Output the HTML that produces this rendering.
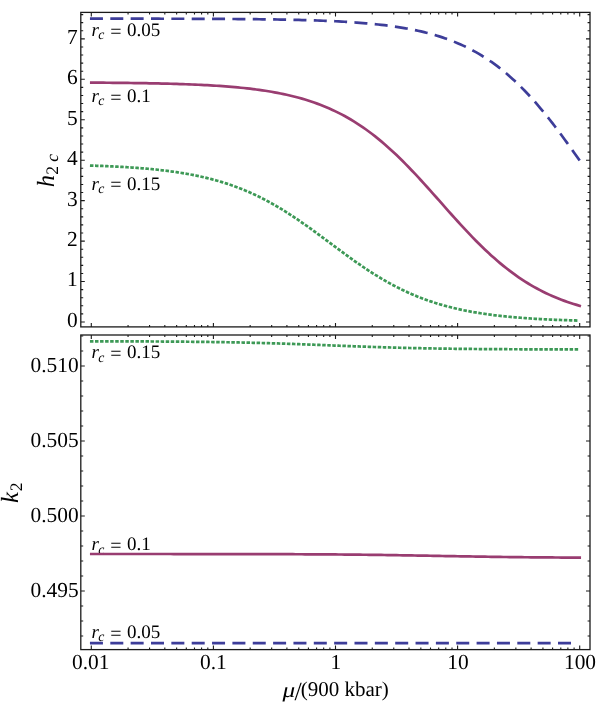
<!DOCTYPE html>
<html><head><meta charset="utf-8"><title>Love numbers</title>
<style>
html,body{margin:0;padding:0;background:#fff;}
body{width:600px;height:707px;overflow:hidden;font-family:"Liberation Serif",serif;}
svg{display:block;will-change:transform;}
</style></head><body>
<svg width="600" height="707" viewBox="0 0 600 707">
<rect width="600" height="707" fill="#fff"/>
<path d="M91.3 326.9 v-4 M128.06 326.9 v-2 M149.56 326.9 v-2 M164.81 326.9 v-2 M176.64 326.9 v-2 M186.31 326.9 v-2 M194.49 326.9 v-2 M201.57 326.9 v-2 M207.81 326.9 v-2 M213.4 326.9 v-4 M250.16 326.9 v-2 M271.66 326.9 v-2 M286.91 326.9 v-2 M298.74 326.9 v-2 M308.41 326.9 v-2 M316.59 326.9 v-2 M323.67 326.9 v-2 M329.91 326.9 v-2 M335.5 326.9 v-4 M372.26 326.9 v-2 M393.76 326.9 v-2 M409.01 326.9 v-2 M420.84 326.9 v-2 M430.51 326.9 v-2 M438.69 326.9 v-2 M445.77 326.9 v-2 M452.01 326.9 v-2 M457.6 326.9 v-4 M494.36 326.9 v-2 M515.86 326.9 v-2 M531.11 326.9 v-2 M542.94 326.9 v-2 M552.61 326.9 v-2 M560.79 326.9 v-2 M567.87 326.9 v-2 M574.11 326.9 v-2 M579.7 326.9 v-4 M91.3 12.4 v4 M128.06 12.4 v2 M149.56 12.4 v2 M164.81 12.4 v2 M176.64 12.4 v2 M186.31 12.4 v2 M194.49 12.4 v2 M201.57 12.4 v2 M207.81 12.4 v2 M213.4 12.4 v4 M250.16 12.4 v2 M271.66 12.4 v2 M286.91 12.4 v2 M298.74 12.4 v2 M308.41 12.4 v2 M316.59 12.4 v2 M323.67 12.4 v2 M329.91 12.4 v2 M335.5 12.4 v4 M372.26 12.4 v2 M393.76 12.4 v2 M409.01 12.4 v2 M420.84 12.4 v2 M430.51 12.4 v2 M438.69 12.4 v2 M445.77 12.4 v2 M452.01 12.4 v2 M457.6 12.4 v4 M494.36 12.4 v2 M515.86 12.4 v2 M531.11 12.4 v2 M542.94 12.4 v2 M552.61 12.4 v2 M560.79 12.4 v2 M567.87 12.4 v2 M574.11 12.4 v2 M579.7 12.4 v4 M80.8 322 h4 M80.8 281.55 h4 M80.8 241.1 h4 M80.8 200.65 h4 M80.8 160.2 h4 M80.8 119.75 h4 M80.8 79.3 h4 M80.8 38.85 h4 M80.8 313.91 h2.4 M80.8 305.82 h2.4 M80.8 297.73 h2.4 M80.8 289.64 h2.4 M80.8 273.46 h2.4 M80.8 265.37 h2.4 M80.8 257.28 h2.4 M80.8 249.19 h2.4 M80.8 233.01 h2.4 M80.8 224.92 h2.4 M80.8 216.83 h2.4 M80.8 208.74 h2.4 M80.8 192.56 h2.4 M80.8 184.47 h2.4 M80.8 176.38 h2.4 M80.8 168.29 h2.4 M80.8 152.11 h2.4 M80.8 144.02 h2.4 M80.8 135.93 h2.4 M80.8 127.84 h2.4 M80.8 111.66 h2.4 M80.8 103.57 h2.4 M80.8 95.48 h2.4 M80.8 87.39 h2.4 M80.8 71.21 h2.4 M80.8 63.12 h2.4 M80.8 55.03 h2.4 M80.8 46.94 h2.4 M80.8 30.76 h2.4 M80.8 22.67 h2.4 M80.8 14.58 h2.4 M590 322 h-4 M590 281.55 h-4 M590 241.1 h-4 M590 200.65 h-4 M590 160.2 h-4 M590 119.75 h-4 M590 79.3 h-4 M590 38.85 h-4 M590 313.91 h-2.4 M590 305.82 h-2.4 M590 297.73 h-2.4 M590 289.64 h-2.4 M590 273.46 h-2.4 M590 265.37 h-2.4 M590 257.28 h-2.4 M590 249.19 h-2.4 M590 233.01 h-2.4 M590 224.92 h-2.4 M590 216.83 h-2.4 M590 208.74 h-2.4 M590 192.56 h-2.4 M590 184.47 h-2.4 M590 176.38 h-2.4 M590 168.29 h-2.4 M590 152.11 h-2.4 M590 144.02 h-2.4 M590 135.93 h-2.4 M590 127.84 h-2.4 M590 111.66 h-2.4 M590 103.57 h-2.4 M590 95.48 h-2.4 M590 87.39 h-2.4 M590 71.21 h-2.4 M590 63.12 h-2.4 M590 55.03 h-2.4 M590 46.94 h-2.4 M590 30.76 h-2.4 M590 22.67 h-2.4 M590 14.58 h-2.4 M91.3 649.6 v-4 M128.06 649.6 v-2 M149.56 649.6 v-2 M164.81 649.6 v-2 M176.64 649.6 v-2 M186.31 649.6 v-2 M194.49 649.6 v-2 M201.57 649.6 v-2 M207.81 649.6 v-2 M213.4 649.6 v-4 M250.16 649.6 v-2 M271.66 649.6 v-2 M286.91 649.6 v-2 M298.74 649.6 v-2 M308.41 649.6 v-2 M316.59 649.6 v-2 M323.67 649.6 v-2 M329.91 649.6 v-2 M335.5 649.6 v-4 M372.26 649.6 v-2 M393.76 649.6 v-2 M409.01 649.6 v-2 M420.84 649.6 v-2 M430.51 649.6 v-2 M438.69 649.6 v-2 M445.77 649.6 v-2 M452.01 649.6 v-2 M457.6 649.6 v-4 M494.36 649.6 v-2 M515.86 649.6 v-2 M531.11 649.6 v-2 M542.94 649.6 v-2 M552.61 649.6 v-2 M560.79 649.6 v-2 M567.87 649.6 v-2 M574.11 649.6 v-2 M579.7 649.6 v-4 M91.3 335 v4 M128.06 335 v2 M149.56 335 v2 M164.81 335 v2 M176.64 335 v2 M186.31 335 v2 M194.49 335 v2 M201.57 335 v2 M207.81 335 v2 M213.4 335 v4 M250.16 335 v2 M271.66 335 v2 M286.91 335 v2 M298.74 335 v2 M308.41 335 v2 M316.59 335 v2 M323.67 335 v2 M329.91 335 v2 M335.5 335 v4 M372.26 335 v2 M393.76 335 v2 M409.01 335 v2 M420.84 335 v2 M430.51 335 v2 M438.69 335 v2 M445.77 335 v2 M452.01 335 v2 M457.6 335 v4 M494.36 335 v2 M515.86 335 v2 M531.11 335 v2 M542.94 335 v2 M552.61 335 v2 M560.79 335 v2 M567.87 335 v2 M574.11 335 v2 M579.7 335 v4 M80.8 591 h4 M80.8 516 h4 M80.8 441 h4 M80.8 366 h4 M80.8 636 h2.4 M80.8 621 h2.4 M80.8 606 h2.4 M80.8 576 h2.4 M80.8 561 h2.4 M80.8 546 h2.4 M80.8 531 h2.4 M80.8 501 h2.4 M80.8 486 h2.4 M80.8 471 h2.4 M80.8 456 h2.4 M80.8 426 h2.4 M80.8 411 h2.4 M80.8 396 h2.4 M80.8 381 h2.4 M80.8 351 h2.4 M80.8 336 h2.4 M590 591 h-4 M590 516 h-4 M590 441 h-4 M590 366 h-4 M590 636 h-2.4 M590 621 h-2.4 M590 606 h-2.4 M590 576 h-2.4 M590 561 h-2.4 M590 546 h-2.4 M590 531 h-2.4 M590 501 h-2.4 M590 486 h-2.4 M590 471 h-2.4 M590 456 h-2.4 M590 426 h-2.4 M590 411 h-2.4 M590 396 h-2.4 M590 381 h-2.4 M590 351 h-2.4 M590 336 h-2.4" stroke="#1a1a1a" stroke-width="1.1" fill="none"/>
<g font-family="'Liberation Serif', serif" fill="#000" text-rendering="geometricPrecision">
<text x="77.8" y="326.9" font-size="21.4" text-anchor="end">0</text>
<text x="77.8" y="286.45" font-size="21.4" text-anchor="end">1</text>
<text x="77.8" y="246" font-size="21.4" text-anchor="end">2</text>
<text x="77.8" y="205.55" font-size="21.4" text-anchor="end">3</text>
<text x="77.8" y="165.1" font-size="21.4" text-anchor="end">4</text>
<text x="77.8" y="124.65" font-size="21.4" text-anchor="end">5</text>
<text x="77.8" y="84.2" font-size="21.4" text-anchor="end">6</text>
<text x="77.8" y="43.75" font-size="21.4" text-anchor="end">7</text>
<text x="78.6" y="596.6" font-size="21.4" text-anchor="end">0.495</text>
<text x="78.6" y="521.6" font-size="21.4" text-anchor="end">0.500</text>
<text x="78.6" y="446.6" font-size="21.4" text-anchor="end">0.505</text>
<text x="78.6" y="371.6" font-size="21.4" text-anchor="end">0.510</text>
<text x="90.7" y="668.7" font-size="21.4" text-anchor="middle">0.01</text>
<text x="213.4" y="668.7" font-size="21.4" text-anchor="middle">0.1</text>
<text x="335.8" y="668.7" font-size="21.4" text-anchor="middle">1</text>
<text x="457.9" y="668.7" font-size="21.4" text-anchor="middle">10</text>
<text x="580" y="668.7" font-size="21.4" text-anchor="middle">100</text>
<text y="36" font-size="19"><tspan x="91.5" font-style="italic">r</tspan><tspan x="98.3" font-style="italic" font-size="13.8" dy="3.3">c</tspan><tspan x="110.2" dy="-1.8" font-size="20">=</tspan><tspan x="126.9" dy="-1.5">0.05</tspan></text>
<text y="102" font-size="19"><tspan x="91.5" font-style="italic">r</tspan><tspan x="98.3" font-style="italic" font-size="13.8" dy="3.3">c</tspan><tspan x="110.2" dy="-1.8" font-size="20">=</tspan><tspan x="126.9" dy="-1.5">0.1</tspan></text>
<text y="189.7" font-size="19"><tspan x="91.5" font-style="italic">r</tspan><tspan x="98.3" font-style="italic" font-size="13.8" dy="3.3">c</tspan><tspan x="110.2" dy="-1.8" font-size="20">=</tspan><tspan x="126.9" dy="-1.5">0.15</tspan></text>
<text y="358.3" font-size="19"><tspan x="91.5" font-style="italic">r</tspan><tspan x="98.3" font-style="italic" font-size="13.8" dy="3.3">c</tspan><tspan x="110.2" dy="-1.8" font-size="20">=</tspan><tspan x="126.9" dy="-1.5">0.15</tspan></text>
<text y="550.2" font-size="19"><tspan x="91.5" font-style="italic">r</tspan><tspan x="98.3" font-style="italic" font-size="13.8" dy="3.3">c</tspan><tspan x="110.2" dy="-1.8" font-size="20">=</tspan><tspan x="126.9" dy="-1.5">0.1</tspan></text>
<text y="638" font-size="19"><tspan x="91.5" font-style="italic">r</tspan><tspan x="98.3" font-style="italic" font-size="13.8" dy="3.3">c</tspan><tspan x="110.2" dy="-1.8" font-size="20">=</tspan><tspan x="126.9" dy="-1.5">0.05</tspan></text>
<text transform="translate(53.9,187.2) rotate(-90)" font-size="24.7"><tspan font-style="italic">h</tspan><tspan font-size="17.5" dy="4">2</tspan><tspan font-size="17.5" font-style="italic"> c</tspan></text>
<text transform="translate(17.5,503) rotate(-90)" font-size="24.7"><tspan font-style="italic">k</tspan><tspan font-size="17.5" dy="4" dx="0.8">2</tspan></text>
<text transform="translate(282.6,696.9) scale(1.2,1)" font-size="21" font-style="italic">μ</text>
<text x="294.6" y="699.6" font-size="26">/</text>
<text x="300.8" y="696.4" font-size="21">(900 kbar)</text>
</g>
<path d="M91.3 18.65 L94.35 18.65 L97.41 18.65 L100.46 18.66 L103.51 18.66 L106.56 18.66 L109.61 18.66 L112.67 18.66 L115.72 18.67 L118.77 18.67 L121.82 18.67 L124.88 18.68 L127.93 18.68 L130.98 18.68 L134.03 18.68 L137.09 18.69 L140.14 18.69 L143.19 18.7 L146.25 18.7 L149.3 18.7 L152.35 18.71 L155.4 18.71 L158.45 18.72 L161.51 18.73 L164.56 18.73 L167.61 18.74 L170.66 18.74 L173.72 18.75 L176.77 18.76 L179.82 18.77 L182.88 18.77 L185.93 18.78 L188.98 18.79 L192.03 18.8 L195.09 18.81 L198.14 18.82 L201.19 18.84 L204.24 18.85 L207.29 18.86 L210.35 18.88 L213.4 18.89 L216.45 18.91 L219.5 18.92 L222.56 18.94 L225.61 18.96 L228.66 18.98 L231.71 19 L234.77 19.02 L237.82 19.05 L240.87 19.07 L243.93 19.1 L246.98 19.13 L250.03 19.16 L253.08 19.19 L256.13 19.22 L259.19 19.26 L262.24 19.29 L265.29 19.33 L268.34 19.38 L271.4 19.42 L274.45 19.47 L277.5 19.52 L280.56 19.57 L283.61 19.62 L286.66 19.68 L289.71 19.75 L292.76 19.81 L295.82 19.88 L298.87 19.96 L301.92 20.03 L304.97 20.12 L308.03 20.21 L311.08 20.3 L314.13 20.4 L317.19 20.5 L320.24 20.61 L323.29 20.73 L326.34 20.85 L329.39 20.98 L332.45 21.12 L335.5 21.27 L338.55 21.43 L341.6 21.59 L344.66 21.76 L347.71 21.95 L350.76 22.14 L353.81 22.35 L356.87 22.57 L359.92 22.8 L362.97 23.04 L366.02 23.3 L369.08 23.57 L372.13 23.86 L375.18 24.16 L378.24 24.48 L381.29 24.82 L384.34 25.18 L387.39 25.56 L390.44 25.96 L393.5 26.39 L396.55 26.83 L399.6 27.31 L402.65 27.81 L405.71 28.33 L408.76 28.89 L411.81 29.47 L414.87 30.09 L417.92 30.75 L420.97 31.43 L424.02 32.16 L427.07 32.92 L430.13 33.73 L433.18 34.58 L436.23 35.47 L439.29 36.41 L442.34 37.4 L445.39 38.44 L448.44 39.53 L451.5 40.68 L454.55 41.88 L457.6 43.15 L460.65 44.48 L463.7 45.87 L466.76 47.34 L469.81 48.87 L472.86 50.47 L475.91 52.15 L478.97 53.9 L482.02 55.74 L485.07 57.66 L488.12 59.66 L491.18 61.74 L494.23 63.91 L497.28 66.18 L500.33 68.53 L503.39 70.98 L506.44 73.52 L509.49 76.16 L512.54 78.89 L515.6 81.72 L518.65 84.64 L521.7 87.66 L524.75 90.78 L527.81 93.99 L530.86 97.3 L533.91 100.7 L536.96 104.19 L540.02 107.77 L543.07 111.44 L546.12 115.19 L549.17 119.02 L552.23 122.92 L555.28 126.89 L558.33 130.94 L561.38 135.04 L564.44 139.19 L567.49 143.4 L570.54 147.65 L573.6 151.93 L576.65 156.25 L579.7 160.59" stroke="#3d3d99" stroke-width="2.7" fill="none" stroke-linecap="square" stroke-dasharray="10.3 10.05"/>
<path d="M91.3 82.62 L94.35 82.64 L97.41 82.66 L100.46 82.69 L103.51 82.71 L106.56 82.73 L109.61 82.76 L112.67 82.79 L115.72 82.82 L118.77 82.85 L121.82 82.88 L124.88 82.91 L127.93 82.95 L130.98 82.99 L134.03 83.03 L137.09 83.07 L140.14 83.12 L143.19 83.17 L146.25 83.22 L149.3 83.28 L152.35 83.33 L155.4 83.4 L158.45 83.46 L161.51 83.53 L164.56 83.6 L167.61 83.68 L170.66 83.76 L173.72 83.85 L176.77 83.94 L179.82 84.04 L182.88 84.14 L185.93 84.25 L188.98 84.36 L192.03 84.48 L195.09 84.61 L198.14 84.75 L201.19 84.89 L204.24 85.04 L207.29 85.2 L210.35 85.37 L213.4 85.55 L216.45 85.75 L219.5 85.95 L222.56 86.16 L225.61 86.38 L228.66 86.62 L231.71 86.87 L234.77 87.14 L237.82 87.42 L240.87 87.72 L243.93 88.03 L246.98 88.36 L250.03 88.71 L253.08 89.08 L256.13 89.47 L259.19 89.89 L262.24 90.32 L265.29 90.78 L268.34 91.26 L271.4 91.77 L274.45 92.31 L277.5 92.88 L280.56 93.48 L283.61 94.11 L286.66 94.77 L289.71 95.47 L292.76 96.2 L295.82 96.98 L298.87 97.79 L301.92 98.65 L304.97 99.55 L308.03 100.49 L311.08 101.48 L314.13 102.53 L317.19 103.62 L320.24 104.76 L323.29 105.96 L326.34 107.22 L329.39 108.53 L332.45 109.91 L335.5 111.35 L338.55 112.85 L341.6 114.42 L344.66 116.05 L347.71 117.76 L350.76 119.53 L353.81 121.38 L356.87 123.3 L359.92 125.29 L362.97 127.36 L366.02 129.51 L369.08 131.73 L372.13 134.03 L375.18 136.4 L378.24 138.85 L381.29 141.37 L384.34 143.97 L387.39 146.65 L390.44 149.39 L393.5 152.21 L396.55 155.09 L399.6 158.04 L402.65 161.06 L405.71 164.13 L408.76 167.26 L411.81 170.45 L414.87 173.68 L417.92 176.95 L420.97 180.27 L424.02 183.62 L427.07 187 L430.13 190.41 L433.18 193.83 L436.23 197.27 L439.29 200.72 L442.34 204.17 L445.39 207.62 L448.44 211.05 L451.5 214.48 L454.55 217.88 L457.6 221.25 L460.65 224.6 L463.7 227.91 L466.76 231.18 L469.81 234.4 L472.86 237.58 L475.91 240.7 L478.97 243.76 L482.02 246.76 L485.07 249.7 L488.12 252.58 L491.18 255.38 L494.23 258.11 L497.28 260.77 L500.33 263.36 L503.39 265.87 L506.44 268.31 L509.49 270.67 L512.54 272.95 L515.6 275.16 L518.65 277.29 L521.7 279.35 L524.75 281.33 L527.81 283.24 L530.86 285.07 L533.91 286.83 L536.96 288.53 L540.02 290.15 L543.07 291.71 L546.12 293.2 L549.17 294.63 L552.23 295.99 L555.28 297.3 L558.33 298.54 L561.38 299.73 L564.44 300.87 L567.49 301.95 L570.54 302.98 L573.6 303.97 L576.65 304.9 L579.7 305.8" stroke="#993d71" stroke-width="2.7" fill="none" stroke-linecap="square" stroke-linejoin="round"/>
<path d="M91.3 165.58 L94.35 165.68 L97.41 165.79 L100.46 165.9 L103.51 166.02 L106.56 166.15 L109.61 166.28 L112.67 166.43 L115.72 166.58 L118.77 166.74 L121.82 166.9 L124.88 167.08 L127.93 167.27 L130.98 167.47 L134.03 167.68 L137.09 167.9 L140.14 168.13 L143.19 168.38 L146.25 168.64 L149.3 168.92 L152.35 169.21 L155.4 169.52 L158.45 169.84 L161.51 170.18 L164.56 170.54 L167.61 170.92 L170.66 171.32 L173.72 171.74 L176.77 172.18 L179.82 172.65 L182.88 173.14 L185.93 173.66 L188.98 174.2 L192.03 174.77 L195.09 175.37 L198.14 176.01 L201.19 176.67 L204.24 177.36 L207.29 178.09 L210.35 178.86 L213.4 179.66 L216.45 180.49 L219.5 181.37 L222.56 182.29 L225.61 183.25 L228.66 184.25 L231.71 185.3 L234.77 186.39 L237.82 187.52 L240.87 188.7 L243.93 189.93 L246.98 191.21 L250.03 192.54 L253.08 193.92 L256.13 195.35 L259.19 196.82 L262.24 198.35 L265.29 199.93 L268.34 201.56 L271.4 203.24 L274.45 204.96 L277.5 206.74 L280.56 208.56 L283.61 210.43 L286.66 212.35 L289.71 214.3 L292.76 216.3 L295.82 218.34 L298.87 220.41 L301.92 222.52 L304.97 224.66 L308.03 226.83 L311.08 229.02 L314.13 231.24 L317.19 233.47 L320.24 235.73 L323.29 237.99 L326.34 240.26 L329.39 242.53 L332.45 244.81 L335.5 247.08 L338.55 249.35 L341.6 251.6 L344.66 253.84 L347.71 256.07 L350.76 258.27 L353.81 260.45 L356.87 262.6 L359.92 264.72 L362.97 266.8 L366.02 268.85 L369.08 270.86 L372.13 272.84 L375.18 274.76 L378.24 276.65 L381.29 278.49 L384.34 280.28 L387.39 282.02 L390.44 283.72 L393.5 285.36 L396.55 286.96 L399.6 288.5 L402.65 290 L405.71 291.44 L408.76 292.84 L411.81 294.18 L414.87 295.48 L417.92 296.72 L420.97 297.92 L424.02 299.07 L427.07 300.18 L430.13 301.24 L433.18 302.26 L436.23 303.23 L439.29 304.16 L442.34 305.05 L445.39 305.9 L448.44 306.72 L451.5 307.49 L454.55 308.23 L457.6 308.94 L460.65 309.61 L463.7 310.26 L466.76 310.87 L469.81 311.45 L472.86 312 L475.91 312.53 L478.97 313.03 L482.02 313.5 L485.07 313.95 L488.12 314.38 L491.18 314.79 L494.23 315.17 L497.28 315.54 L500.33 315.89 L503.39 316.22 L506.44 316.53 L509.49 316.83 L512.54 317.11 L515.6 317.37 L518.65 317.62 L521.7 317.86 L524.75 318.09 L527.81 318.3 L530.86 318.5 L533.91 318.7 L536.96 318.88 L540.02 319.05 L543.07 319.21 L546.12 319.36 L549.17 319.51 L552.23 319.65 L555.28 319.78 L558.33 319.9 L561.38 320.01 L564.44 320.12 L567.49 320.23 L570.54 320.33 L573.6 320.42 L576.65 320.51 L579.7 320.59" stroke="#3d9956" stroke-width="2.7" fill="none" stroke-linecap="square" stroke-dasharray="0.8 4.25"/>
<path d="M91.3 341.29 L94.35 341.3 L97.41 341.3 L100.46 341.31 L103.51 341.31 L106.56 341.32 L109.61 341.33 L112.67 341.34 L115.72 341.34 L118.77 341.35 L121.82 341.36 L124.88 341.37 L127.93 341.38 L130.98 341.39 L134.03 341.4 L137.09 341.41 L140.14 341.43 L143.19 341.44 L146.25 341.45 L149.3 341.47 L152.35 341.48 L155.4 341.5 L158.45 341.51 L161.51 341.53 L164.56 341.55 L167.61 341.57 L170.66 341.59 L173.72 341.61 L176.77 341.64 L179.82 341.66 L182.88 341.69 L185.93 341.72 L188.98 341.74 L192.03 341.77 L195.09 341.81 L198.14 341.84 L201.19 341.87 L204.24 341.91 L207.29 341.95 L210.35 341.99 L213.4 342.03 L216.45 342.07 L219.5 342.12 L222.56 342.17 L225.61 342.22 L228.66 342.27 L231.71 342.33 L234.77 342.38 L237.82 342.44 L240.87 342.5 L243.93 342.57 L246.98 342.64 L250.03 342.71 L253.08 342.78 L256.13 342.85 L259.19 342.93 L262.24 343.01 L265.29 343.09 L268.34 343.18 L271.4 343.27 L274.45 343.36 L277.5 343.45 L280.56 343.55 L283.61 343.65 L286.66 343.75 L289.71 343.85 L292.76 343.95 L295.82 344.06 L298.87 344.17 L301.92 344.28 L304.97 344.39 L308.03 344.51 L311.08 344.62 L314.13 344.74 L317.19 344.85 L320.24 344.97 L323.29 345.09 L326.34 345.21 L329.39 345.33 L332.45 345.45 L335.5 345.57 L338.55 345.69 L341.6 345.81 L344.66 345.92 L347.71 346.04 L350.76 346.16 L353.81 346.27 L356.87 346.38 L359.92 346.49 L362.97 346.6 L366.02 346.71 L369.08 346.82 L372.13 346.92 L375.18 347.02 L378.24 347.12 L381.29 347.22 L384.34 347.31 L387.39 347.4 L390.44 347.49 L393.5 347.58 L396.55 347.66 L399.6 347.74 L402.65 347.82 L405.71 347.9 L408.76 347.97 L411.81 348.04 L414.87 348.11 L417.92 348.17 L420.97 348.24 L424.02 348.3 L427.07 348.35 L430.13 348.41 L433.18 348.46 L436.23 348.51 L439.29 348.56 L442.34 348.61 L445.39 348.66 L448.44 348.7 L451.5 348.74 L454.55 348.78 L457.6 348.81 L460.65 348.85 L463.7 348.88 L466.76 348.92 L469.81 348.95 L472.86 348.98 L475.91 349 L478.97 349.03 L482.02 349.05 L485.07 349.08 L488.12 349.1 L491.18 349.12 L494.23 349.14 L497.28 349.16 L500.33 349.18 L503.39 349.2 L506.44 349.21 L509.49 349.23 L512.54 349.24 L515.6 349.26 L518.65 349.27 L521.7 349.28 L524.75 349.29 L527.81 349.31 L530.86 349.32 L533.91 349.33 L536.96 349.34 L540.02 349.35 L543.07 349.35 L546.12 349.36 L549.17 349.37 L552.23 349.38 L555.28 349.38 L558.33 349.39 L561.38 349.4 L564.44 349.4 L567.49 349.41 L570.54 349.41 L573.6 349.42 L576.65 349.42 L579.7 349.43" stroke="#3d9956" stroke-width="2.7" fill="none" stroke-linecap="square" stroke-dasharray="0.8 4.25"/>
<path d="M91.3 554.01 L94.35 554.01 L97.41 554.01 L100.46 554.01 L103.51 554.01 L106.56 554.01 L109.61 554.01 L112.67 554.01 L115.72 554.01 L118.77 554.01 L121.82 554.01 L124.88 554.01 L127.93 554.01 L130.98 554.01 L134.03 554.01 L137.09 554.01 L140.14 554.01 L143.19 554.01 L146.25 554.01 L149.3 554.02 L152.35 554.02 L155.4 554.02 L158.45 554.02 L161.51 554.02 L164.56 554.02 L167.61 554.02 L170.66 554.02 L173.72 554.03 L176.77 554.03 L179.82 554.03 L182.88 554.03 L185.93 554.03 L188.98 554.03 L192.03 554.04 L195.09 554.04 L198.14 554.04 L201.19 554.04 L204.24 554.04 L207.29 554.05 L210.35 554.05 L213.4 554.05 L216.45 554.06 L219.5 554.06 L222.56 554.06 L225.61 554.07 L228.66 554.07 L231.71 554.07 L234.77 554.08 L237.82 554.08 L240.87 554.09 L243.93 554.09 L246.98 554.1 L250.03 554.1 L253.08 554.11 L256.13 554.12 L259.19 554.12 L262.24 554.13 L265.29 554.14 L268.34 554.14 L271.4 554.15 L274.45 554.16 L277.5 554.17 L280.56 554.18 L283.61 554.19 L286.66 554.2 L289.71 554.21 L292.76 554.22 L295.82 554.24 L298.87 554.25 L301.92 554.26 L304.97 554.28 L308.03 554.29 L311.08 554.31 L314.13 554.33 L317.19 554.34 L320.24 554.36 L323.29 554.38 L326.34 554.4 L329.39 554.42 L332.45 554.45 L335.5 554.47 L338.55 554.49 L341.6 554.52 L344.66 554.55 L347.71 554.57 L350.76 554.6 L353.81 554.63 L356.87 554.66 L359.92 554.7 L362.97 554.73 L366.02 554.76 L369.08 554.8 L372.13 554.84 L375.18 554.88 L378.24 554.92 L381.29 554.96 L384.34 555 L387.39 555.04 L390.44 555.09 L393.5 555.13 L396.55 555.18 L399.6 555.23 L402.65 555.28 L405.71 555.33 L408.76 555.38 L411.81 555.43 L414.87 555.48 L417.92 555.53 L420.97 555.59 L424.02 555.64 L427.07 555.7 L430.13 555.75 L433.18 555.81 L436.23 555.86 L439.29 555.92 L442.34 555.98 L445.39 556.03 L448.44 556.09 L451.5 556.14 L454.55 556.2 L457.6 556.25 L460.65 556.31 L463.7 556.36 L466.76 556.42 L469.81 556.47 L472.86 556.52 L475.91 556.57 L478.97 556.62 L482.02 556.67 L485.07 556.72 L488.12 556.76 L491.18 556.81 L494.23 556.86 L497.28 556.9 L500.33 556.94 L503.39 556.98 L506.44 557.02 L509.49 557.06 L512.54 557.1 L515.6 557.13 L518.65 557.17 L521.7 557.2 L524.75 557.23 L527.81 557.27 L530.86 557.3 L533.91 557.32 L536.96 557.35 L540.02 557.38 L543.07 557.4 L546.12 557.43 L549.17 557.45 L552.23 557.47 L555.28 557.5 L558.33 557.52 L561.38 557.54 L564.44 557.55 L567.49 557.57 L570.54 557.59 L573.6 557.6 L576.65 557.62 L579.7 557.63" stroke="#993d71" stroke-width="2.7" fill="none" stroke-linecap="square" stroke-linejoin="round"/>
<path d="M91.3 643.2 L94.35 643.2 L97.41 643.2 L100.46 643.2 L103.51 643.2 L106.56 643.2 L109.61 643.2 L112.67 643.2 L115.72 643.2 L118.77 643.2 L121.82 643.2 L124.88 643.2 L127.93 643.2 L130.98 643.2 L134.03 643.2 L137.09 643.2 L140.14 643.2 L143.19 643.2 L146.25 643.2 L149.3 643.2 L152.35 643.2 L155.4 643.2 L158.45 643.2 L161.51 643.2 L164.56 643.2 L167.61 643.2 L170.66 643.2 L173.72 643.2 L176.77 643.2 L179.82 643.2 L182.88 643.2 L185.93 643.2 L188.98 643.2 L192.03 643.2 L195.09 643.2 L198.14 643.2 L201.19 643.2 L204.24 643.2 L207.29 643.2 L210.35 643.2 L213.4 643.2 L216.45 643.2 L219.5 643.2 L222.56 643.2 L225.61 643.2 L228.66 643.2 L231.71 643.2 L234.77 643.2 L237.82 643.2 L240.87 643.2 L243.93 643.2 L246.98 643.2 L250.03 643.2 L253.08 643.2 L256.13 643.2 L259.19 643.2 L262.24 643.2 L265.29 643.2 L268.34 643.2 L271.4 643.2 L274.45 643.2 L277.5 643.2 L280.56 643.2 L283.61 643.2 L286.66 643.2 L289.71 643.2 L292.76 643.2 L295.82 643.2 L298.87 643.2 L301.92 643.2 L304.97 643.2 L308.03 643.2 L311.08 643.2 L314.13 643.2 L317.19 643.2 L320.24 643.2 L323.29 643.2 L326.34 643.2 L329.39 643.2 L332.45 643.2 L335.5 643.2 L338.55 643.2 L341.6 643.2 L344.66 643.2 L347.71 643.2 L350.76 643.2 L353.81 643.2 L356.87 643.2 L359.92 643.2 L362.97 643.2 L366.02 643.2 L369.08 643.2 L372.13 643.2 L375.18 643.2 L378.24 643.2 L381.29 643.2 L384.34 643.2 L387.39 643.2 L390.44 643.2 L393.5 643.2 L396.55 643.2 L399.6 643.2 L402.65 643.2 L405.71 643.2 L408.76 643.2 L411.81 643.2 L414.87 643.2 L417.92 643.2 L420.97 643.2 L424.02 643.2 L427.07 643.2 L430.13 643.2 L433.18 643.2 L436.23 643.2 L439.29 643.2 L442.34 643.2 L445.39 643.2 L448.44 643.2 L451.5 643.2 L454.55 643.2 L457.6 643.2 L460.65 643.2 L463.7 643.2 L466.76 643.2 L469.81 643.2 L472.86 643.2 L475.91 643.2 L478.97 643.2 L482.02 643.2 L485.07 643.2 L488.12 643.2 L491.18 643.2 L494.23 643.2 L497.28 643.2 L500.33 643.2 L503.39 643.2 L506.44 643.2 L509.49 643.2 L512.54 643.2 L515.6 643.2 L518.65 643.2 L521.7 643.2 L524.75 643.2 L527.81 643.2 L530.86 643.2 L533.91 643.2 L536.96 643.2 L540.02 643.2 L543.07 643.2 L546.12 643.2 L549.17 643.2 L552.23 643.2 L555.28 643.2 L558.33 643.2 L561.38 643.2 L564.44 643.2 L567.49 643.2 L570.54 643.2 L573.6 643.2 L576.65 643.2 L579.7 643.2" stroke="#3d3d99" stroke-width="2.7" fill="none" stroke-linecap="square" stroke-dasharray="10.3 10.05"/>
<rect x="80.8" y="12.4" width="509.2" height="314.5" fill="none" stroke="#1a1a1a" stroke-width="1.3"/>
<rect x="80.8" y="335" width="509.2" height="314.6" fill="none" stroke="#1a1a1a" stroke-width="1.3"/>
</svg>
</body></html>
